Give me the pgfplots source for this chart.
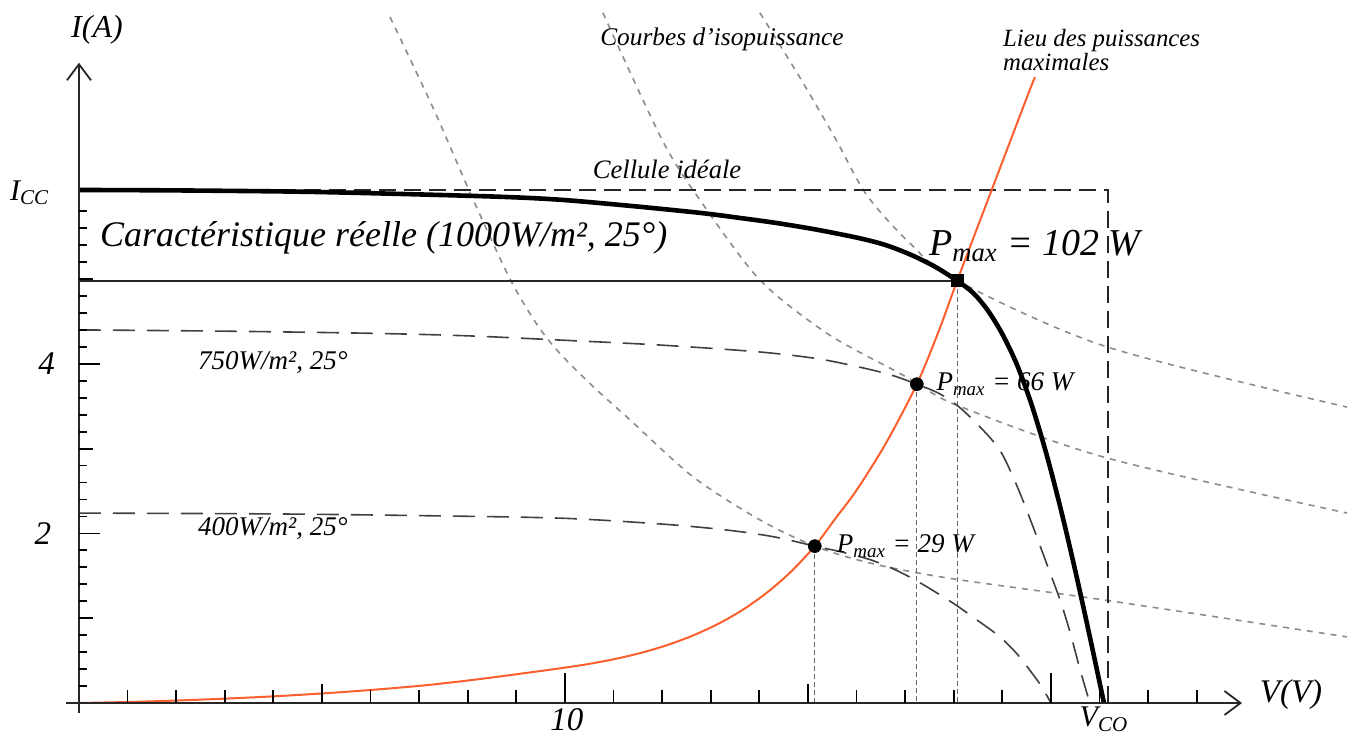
\documentclass[border=0pt]{standalone}
\usepackage{pgfplots}
\pgfplotsset{compat=1.18}
\usetikzlibrary{arrows.meta}
\usepackage{fontspec}
\setmainfont{Liberation Serif}
\definecolor{orng}{RGB}{250,95,45}
\definecolor{txt}{RGB}{20,25,55}
\definecolor{iso}{RGB}{140,140,140}
\newcommand{\fs}[1]{\fontsize{#1}{#1}\selectfont\itshape}
\begin{document}
\begin{tikzpicture}
\begin{axis}[
  at={(0,0)}, anchor=south west,
  x=24.3pt, y=42.4pt,
  xmin=-1.625, xmax=26.255, ymin=-0.389, ymax=8.290,
  hide axis, clip=false,
  every node/.append style={text=txt, inner sep=0pt},
]
% isopower curves
\addplot[iso, line width=0.8pt, dash pattern=on 3pt off 3pt, smooth, tension=0.5] coordinates {
(6.40,8.09)(7.30,7.00)(8.10,5.95)(8.87,5.00)(9.44,4.45)(9.90,4.12)(10.6,3.72)(11.28,3.37)(12.63,2.67)(14.01,2.16)(15.14,1.85)(16.28,1.65)(17.92,1.47)(21.15,1.21)(26.09,0.78)};
\addplot[iso, line width=0.8pt, dash pattern=on 3pt off 3pt, smooth, tension=0.5] coordinates {
(10.78,8.14)(12.0,6.64)(12.78,5.93)(14.01,4.99)(15.39,4.36)(16.75,3.93)(17.26,3.77)(18.07,3.51)(21.15,2.89)(26.09,2.24)};
\addplot[iso, line width=0.8pt, dash pattern=on 3pt off 3pt, smooth, tension=0.5] coordinates {
(14.01,8.14)(14.84,7.37)(15.56,6.66)(16.21,5.99)(17.10,5.42)(18.07,4.98)(21.15,4.20)(26.09,3.49)};
% ideal cell
\addplot[black!85, line width=1pt, dash pattern=on 8.5pt off 4pt] coordinates {(0,6.05)(21.17,6.05)(21.17,0)};
% horizontal line at Pmax
\addplot[black!85, line width=0.9pt] coordinates {(0,4.98)(18.07,4.98)};
% vertical dashed lines
\addplot[black!60, line width=0.6pt, dash pattern=on 2.5pt off 1.5pt] coordinates {(18.07,4.98)(18.07,0)};
\addplot[black!60, line width=0.6pt, dash pattern=on 2.5pt off 1.5pt] coordinates {(17.24,3.76)(17.24,0)};
\addplot[black!60, line width=0.6pt, dash pattern=on 2.5pt off 1.5pt] coordinates {(15.14,1.85)(15.14,0)};
% 750 W/m2
\addplot[black!75, line width=0.8pt, dash pattern=on 11pt off 6pt, smooth] coordinates {
(0,4.40)(3,4.385)(6,4.36)(8,4.33)(9.9,4.28)(12,4.22)(14,4.14)(15.2,4.06)(16.07,3.96)(16.7,3.87)(17.24,3.76)(17.7,3.65)(18.07,3.51)(18.5,3.28)(18.95,2.98)(19.3,2.56)(19.63,2.08)(19.9,1.66)(20.19,1.21)(20.4,0.82)(20.6,0.39)(20.8,0)};
% 400 W/m2
\addplot[black!75, line width=0.8pt, dash pattern=on 11pt off 6pt, smooth] coordinates {
(0,2.24)(4,2.23)(7,2.21)(9.9,2.18)(12,2.11)(13.33,2.04)(14.3,1.96)(15.14,1.85)(15.7,1.78)(16.28,1.69)(16.8,1.57)(17.3,1.42)(17.98,1.18)(18.5,0.97)(18.95,0.78)(19.3,0.58)(19.6,0.36)(19.8,0.2)(20.0,0)};
% locus of maximum power
\addplot[orng, line width=1pt, smooth] coordinates {
(0,0)(1.14,0.014)(2.14,0.032)(3.14,0.055)(4.14,0.083)(5.14,0.118)(6.14,0.16)(7.14,0.21)(8.14,0.275)(9.14,0.35)(10.14,0.429)(10.64,0.476)(11.14,0.533)(11.64,0.603)(12.14,0.69)(12.64,0.798)(13.14,0.93)(13.64,1.093)(14.14,1.295)(14.64,1.543)(15.14,1.85)(15.57,2.18)(16.0,2.51)(16.6,3.06)(17.24,3.76)(17.7,4.40)(18.07,4.98)(18.74,5.99)(19.51,7.15)(19.67,7.38)};
% real characteristic
\addplot[black, line width=2.3pt, smooth] coordinates {
(0,6.05)(2,6.045)(4.53,6.03)(6.5,6.005)(8.66,5.97)(9.9,5.935)(11.3,5.865)(12.78,5.78)(13.6,5.72)(14.36,5.66)(15.2,5.58)(16.07,5.48)(16.6,5.40)(17.1,5.29)(17.6,5.15)(18.07,4.98)(18.4,4.835)(18.7,4.63)(19.0,4.35)(19.3,3.99)(19.6,3.52)(19.9,2.95)(20.2,2.29)(20.5,1.56)(20.8,0.78)(21.09,0)};
% axes
\addplot[black!85, line width=0.9pt, -{Straight Barb[length=8pt,width=12pt]}] coordinates {(-0.27,0)(23.93,0)};
\addplot[black!85, line width=0.9pt, -{Straight Barb[length=8pt,width=12pt]}] coordinates {(0,-0.12)(0,7.55)};
% x ticks
\addplot[black, line width=0.9pt, unbounded coords=jump] coordinates {
(1,0)(1,0.153)(1,nan)(2,0)(2,0.153)(2,nan)(3,0)(3,0.153)(3,nan)(4,0)(4,0.153)(4,nan)
(6,0)(6,0.153)(6,nan)(7,0)(7,0.153)(7,nan)(8,0)(8,0.153)(8,nan)(9,0)(9,0.153)(9,nan)
(11,0)(11,0.153)(11,nan)(12,0)(12,0.153)(12,nan)(13,0)(13,0.153)(13,nan)(14,0)(14,0.153)(14,nan)
(16,0)(16,0.153)(16,nan)(17,0)(17,0.153)(17,nan)(18,0)(18,0.153)(18,nan)(19,0)(19,0.153)(19,nan)
(21,0)(21,0.153)(21,nan)(22,0)(22,0.153)(22,nan)(23,0)(23,0.153)(23,nan)
(5,0)(5,0.224)(5,nan)(15,0)(15,0.224)(15,nan)
(10,0)(10,0.354)(10,nan)(20,0)(20,0.354)};
% y ticks
\addplot[black, line width=0.9pt, unbounded coords=jump] coordinates {
(0,0.2)(0.165,0.2)(nan,0.2)(0,0.4)(0.165,0.4)(nan,0.4)(0,0.6)(0.165,0.6)(nan,0.6)(0,0.8)(0.165,0.8)(nan,0.8)
(0,1.2)(0.165,1.2)(nan,1.2)(0,1.4)(0.165,1.4)(nan,1.4)(0,1.6)(0.165,1.6)(nan,1.6)(0,1.8)(0.165,1.8)(nan,1.8)
(0,2.2)(0.165,2.2)(nan,2.2)(0,2.4)(0.165,2.4)(nan,2.4)(0,2.6)(0.165,2.6)(nan,2.6)(0,2.8)(0.165,2.8)(nan,2.8)
(0,3.2)(0.165,3.2)(nan,3.2)(0,3.4)(0.165,3.4)(nan,3.4)(0,3.6)(0.165,3.6)(nan,3.6)(0,3.8)(0.165,3.8)(nan,3.8)
(0,4.2)(0.165,4.2)(nan,4.2)(0,4.4)(0.165,4.4)(nan,4.4)(0,4.6)(0.165,4.6)(nan,4.6)(0,4.8)(0.165,4.8)(nan,4.8)
(0,5.2)(0.165,5.2)(nan,5.2)(0,5.4)(0.165,5.4)(nan,5.4)(0,5.6)(0.165,5.6)(nan,5.6)(0,5.8)(0.165,5.8)(nan,5.8)
(0,1)(0.288,1)(nan,1)(0,3)(0.288,3)(nan,3)(0,5)(0.288,5)(nan,5)
(0,2)(0.432,2)(nan,2)(0,4)(0.432,4)};
% markers
\addplot[only marks, mark=*, mark size=3.2pt, black] coordinates {(17.24,3.76)(15.14,1.85)};
\addplot[only marks, mark=square*, mark size=3pt, black] coordinates {(18.07,4.98)};
% texts
\node[font=\fs{16}] at (0.37,7.94) {I(A)};
\node[anchor=east, font=\fs{15}] at (-0.47,6.02) {I\textsubscript{CC}};
\node[anchor=east, font=\fs{16.5}] at (-0.35,4.0) {4};
\node[anchor=east, font=\fs{16.5}] at (-0.43,2.0) {2};
\node[font=\fs{16.5}] at (10.04,-0.20) {10};
\node[font=\fs{15}] at (21.09,-0.19) {V\textsubscript{CO}};
\node[font=\fs{16.5}] at (24.94,0.10) {V(V)};
\node[anchor=west, font=\fs{18}] at (0.29,5.48) {Caractéristique réelle (1000W/m², 25°)};
\node[font=\fs{13.3}] at (12.1,6.29) {Cellule idéale};
\node[font=\fs{12.7}] at (13.23,7.82) {Courbes d'isopuissance};
\node[anchor=west, align=left, font=\fontsize{12.4}{12}\selectfont\itshape] at (18.87,7.70) {Lieu des puissances\\maximales};
\node[anchor=west, font=\fs{19}] at (17.35,5.39) {P\textsubscript{max} = 102 W};
\node[anchor=west, font=\fs{13.5}] at (17.50,3.76) {P\textsubscript{max} = 66 W};
\node[anchor=west, font=\fs{13.5}] at (15.45,1.85) {P\textsubscript{max} = 29 W};
\node[font=\fs{13.5}] at (3.99,4.02) {750W/m², 25°};
\node[font=\fs{13.5}] at (3.99,2.06) {400W/m², 25°};
\end{axis}
\pgfresetboundingbox
\path[use as bounding box] (0,0) rectangle (677.5pt,368pt);
\end{tikzpicture}
\end{document}
